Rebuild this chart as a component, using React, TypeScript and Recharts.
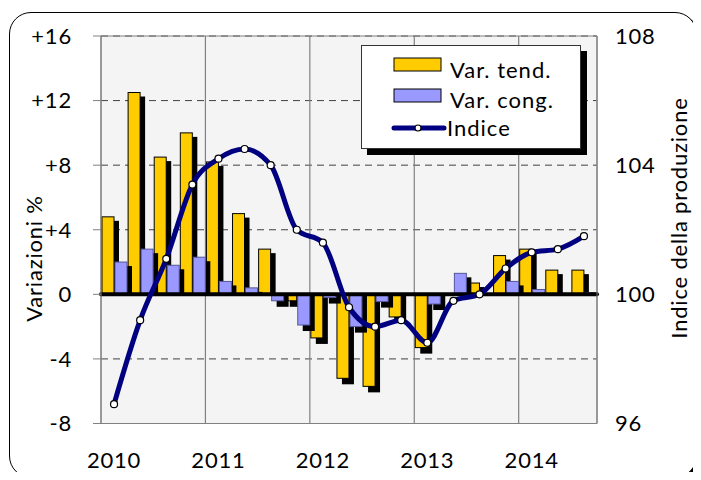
import { Bar, CartesianGrid, ComposedChart, Line, ReferenceLine, XAxis, YAxis } from "recharts";

const quarters = [
	"2010 T1", "2010 T2", "2010 T3", "2010 T4",
	"2011 T1", "2011 T2", "2011 T3", "2011 T4",
	"2012 T1", "2012 T2", "2012 T3", "2012 T4",
	"2013 T1", "2013 T2", "2013 T3", "2013 T4",
	"2014 T1", "2014 T2", "2014 T3",
];
const varTend = [4.8, 12.5, 8.5, 10.0, 8.2, 5.0, 2.8, -0.4, -2.7, -5.2, -5.7, -1.4, -3.3, 0.0, 0.7, 2.4, 2.8, 1.5, 1.5];
const varCong = [2.0, 2.8, 1.8, 2.3, 0.8, 0.4, -0.4, -1.9, -0.2, -2.0, -0.45, 0.0, -0.6, 1.3, 0.0, 0.8, 0.3, 0.0, 0.1];
const indice = [96.6, 99.2, 101.1, 103.4, 104.2, 104.5, 104.0, 102.0, 101.6, 99.6, 99.0, 99.2, 98.5, 99.8, 100.0, 100.8, 101.3, 101.4, 101.8];
const leftTicks = [-8, -4, 0, 4, 8, 12, 16];
const rightTicks = [96, 100, 104, 108];

const data = quarters.map((q, i) => ({ q, tend: varTend[i], cong: varCong[i], indice: indice[i] }));

const FONT = "Lato, 'Open Sans', sans-serif";
const YELLOW = "#FFCC00";
const BLUE = "#9999FF";
const NAVY = "#000080";

function ShadowBar(props: any) {
	const { x, y, width, height, fill, stroke, value } = props;
	const v = Array.isArray(value) ? value[1] - value[0] : value;
	if (!height || !v) return <g />;
	const top = Math.min(y, y + height);
	const h = Math.abs(height);
	const neg = v < 0;
	return (
		<g>
			<rect x={x + 5} y={neg ? top : top + 4} width={width} height={neg ? h + 6 : h - 4} fill="#000" />
			<rect x={x} y={top} width={width} height={h} fill={fill} stroke={stroke} strokeWidth={1} />
		</g>
	);
}

function YearTick({ x, y, payload }: any) {
	const [year, q] = String(payload.value).split(" ");
	if (q !== "T1") return <g />;
	return (
		<text x={x} y={y} dy={44.5} textAnchor="middle" fill="#000" fontSize={22}>
			{year}
		</text>
	);
}

function LegendBox() {
	return (
		<div
			style={{
				position: "absolute",
				left: 353,
				top: 37,
				width: 220,
				height: 104,
				boxSizing: "border-box",
				border: "1px solid #333",
				background: "#fff",
				boxShadow: "6px 6px 0 #000",
			}}
		>
			<svg width={220} height={104} style={{ position: "absolute", left: -1, top: -1, fontFamily: FONT, letterSpacing: "1px" }}>
				<rect x={33} y={13} width={47} height={13} fill={YELLOW} stroke="#000" strokeWidth={1} />
				<text x={89} y={33} fontSize={22} fill="#000">Var. tend.</text>
				<rect x={33} y={44} width={47} height={13} fill={BLUE} stroke="#000" strokeWidth={1} />
				<text x={89} y={63} fontSize={22} fill="#000">Var. cong.</text>
				<line x1={33} x2={83} y1={83} y2={83} stroke={NAVY} strokeWidth={5} strokeLinecap="round" />
				<circle cx={57} cy={83} r={3} fill="#fff" stroke="#000" strokeWidth={1.2} />
				<text x={86} y={91} fontSize={22} fill="#000">Indice</text>
			</svg>
		</div>
	);
}

export default function App() {
	return (
		<div style={{ position: "relative", width: 685, height: 464, fontFamily: FONT }}>
			<div
				style={{
					position: "absolute",
					left: 1,
					top: 4,
					width: 688,
					height: 466,
					boxSizing: "border-box",
					border: "1.5px solid #000",
					borderRadius: 22,
					boxShadow: "3px 3px 0 #000",
					background: "#fff",
				}}
			/>
			<div style={{ position: "absolute", left: 0, top: 0 }}>
				<ComposedChart
					width={685}
					height={464}
					data={data}
					margin={{ top: 28, right: 0, bottom: 0, left: 0 }}
					barCategoryGap={1}
					barGap={1}
					style={{ fontFamily: FONT, letterSpacing: "0.8px" }}
				>
					<CartesianGrid yAxisId="left" vertical={false} stroke="#404040" strokeDasharray="7 5" fill="#f4f4f4" />
					<CartesianGrid
						yAxisId="left"
						stroke="#808080"
						strokeWidth={1.2}
						horizontalCoordinatesGenerator={({ offset }: any) => [offset.top, offset.top + offset.height]}
						verticalCoordinatesGenerator={({ offset }: any) =>
							[0, 1, 2, 3, 4]
								.map((k) => offset.left + (k * 4 * offset.width) / quarters.length)
								.concat(offset.left + offset.width)
						}
					/>
					<XAxis
						dataKey="q"
						height={48.5}
						interval={0}
						tickSize={0}
						tickMargin={0}
						tickLine={false}
						axisLine={{ stroke: "#808080" }}
						tick={<YearTick />}
					/>
					<YAxis
						yAxisId="left"
						domain={[-8, 16]}
						ticks={leftTicks}
						interval={0}
						width={93}
						tickSize={8}
						tickMargin={21}
						axisLine={{ stroke: "#808080" }}
						tickLine={{ stroke: "#808080" }}
						tick={{ fill: "#000", fontSize: 22 }}
						tickFormatter={(v) => (v > 0 ? `+${v}` : `${v}`)}
						label={{
							content: () => (
								<text transform="translate(34,250.5) rotate(-90)" textAnchor="middle" fontSize={22} fill="#000">
									Variazioni %
								</text>
							),
						}}
					/>
					<YAxis
						yAxisId="right"
						orientation="right"
						domain={[96, 108]}
						ticks={rightTicks}
						interval={0}
						width={96}
						tickSize={0}
						tickMargin={18}
						axisLine={{ stroke: "#808080" }}
						tickLine={false}
						tick={{ fill: "#000", fontSize: 22, textAnchor: "start" }}
						label={{
							content: () => (
								<text transform="translate(679,210) rotate(-90)" textAnchor="middle" fontSize={22} fill="#000">
									Indice della produzione
								</text>
							),
						}}
					/>
					<Bar yAxisId="left" dataKey="tend" fill={YELLOW} stroke="#000" shape={(p: any) => <ShadowBar {...p} />} isAnimationActive={false} />
					<Bar yAxisId="left" dataKey="cong" fill={BLUE} stroke="#55559a" shape={(p: any) => <ShadowBar {...p} />} isAnimationActive={false} />
					<ReferenceLine yAxisId="left" y={0} stroke="#000" strokeWidth={4} strokeLinecap="round" />
					<Line
						yAxisId="right"
						dataKey="indice"
						type="monotone"
						stroke={NAVY}
						strokeWidth={5}
						dot={{ r: 3.5, fill: "#fff", stroke: "#000", strokeWidth: 1.2 }}
						activeDot={false}
						isAnimationActive={false}
					/>
				</ComposedChart>
			</div>
			<LegendBox />
		</div>
	);
}
